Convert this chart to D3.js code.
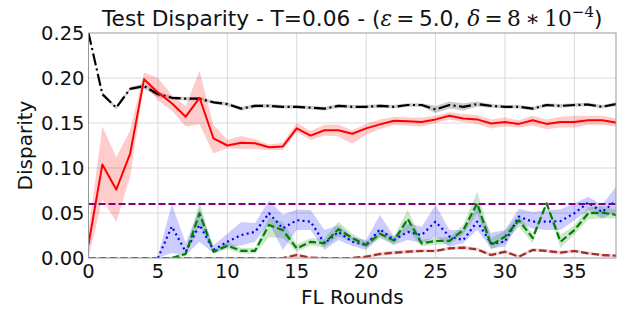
<!DOCTYPE html>
<html><head><meta charset="utf-8">
<script src="https://cdn.jsdelivr.net/npm/d3@7/dist/d3.min.js"></script>
<style>body{margin:0;background:#fff}svg{display:block}</style>
</head><body><svg id="c" width="628" height="309"></svg>
<script>
const rounds = d3.range(0, 39);
const xTicks = [0, 5, 10, 15, 20, 25, 30, 35];
const yTicks = [0, 0.05, 0.10, 0.15, 0.20, 0.25];
const threshold = 0.06;

const blackMean = [0.25,0.182,0.167,0.188,0.191,0.182,0.178,0.177,0.177,0.173,0.171,0.166,0.169,0.169,0.168,0.168,0.167,0.166,0.169,0.168,0.168,0.169,0.168,0.170,0.170,0.165,0.170,0.168,0.171,0.169,0.168,0.168,0.166,0.170,0.169,0.170,0.1705,0.168,0.171];
const blackLo = [0.25,0.180,0.165,0.186,0.188,0.179,0.176,0.175,0.175,0.171,0.169,0.164,0.167,0.167,0.166,0.166,0.165,0.164,0.167,0.166,0.166,0.167,0.166,0.168,0.168,0.161,0.166,0.164,0.168,0.167,0.166,0.166,0.164,0.168,0.167,0.168,0.1685,0.166,0.169];
const blackHi = [0.25,0.184,0.169,0.190,0.194,0.185,0.180,0.179,0.179,0.175,0.173,0.168,0.171,0.171,0.170,0.170,0.169,0.168,0.171,0.170,0.170,0.171,0.170,0.172,0.172,0.169,0.174,0.172,0.174,0.171,0.170,0.170,0.168,0.172,0.171,0.172,0.1725,0.170,0.173];

const redMean = [0.015,0.104,0.076,0.116,0.1985,0.184,0.172,0.157,0.178,0.133,0.125,0.128,0.1275,0.123,0.124,0.144,0.136,0.142,0.142,0.138,0.144,0.1485,0.1525,0.152,0.151,0.154,0.158,0.155,0.154,0.1495,0.151,0.149,0.153,0.149,0.151,0.151,0.153,0.153,0.1505];
const redLo = [0.0,0.065,0.04,0.09,0.195,0.175,0.164,0.146,0.1485,0.116,0.122,0.121,0.121,0.12,0.12,0.14,0.131,0.136,0.135,0.127,0.137,0.143,0.148,0.147,0.146,0.15,0.154,0.151,0.149,0.144,0.146,0.145,0.147,0.143,0.145,0.145,0.148,0.148,0.146];
const redHi = [0.03,0.146,0.112,0.142,0.206,0.2,0.181,0.169,0.208,0.148,0.131,0.1355,0.132,0.126,0.128,0.15,0.141,0.148,0.148,0.142,0.149,0.154,0.157,0.156,0.156,0.158,0.162,0.16,0.159,0.154,0.156,0.153,0.158,0.154,0.157,0.158,0.158,0.158,0.155];

const blueMean = [null,null,null,null,null,0.0,0.035,0.007,0.0367,0.009,0.018,0.0255,0.029,0.0497,0.033,0.042,0.0404,0.0163,0.029,0.018,0.0144,0.032,0.02,0.029,0.0255,0.0404,0.024,0.02,0.0404,0.0163,0.018,0.046,0.0404,0.0404,0.041,0.0497,0.0615,0.051,0.0637];
const blueLo = [null,null,null,null,null,0,0.0055,0.003,0.018,0.005,0.012,0.014,0.018,0.0385,0.0089,0.0311,0.0311,0.009,0.02,0.0133,0.009,0.024,0.0144,0.02,0.0163,0.024,0.0126,0.0163,0.031,0.0107,0.0126,0.0385,0.0326,0.031,0.031,0.042,0.0533,0.044,0.0515];
const blueHi = [null,null,null,null,null,0.002,0.06,0.0167,0.055,0.014,0.027,0.040,0.039,0.064,0.048,0.054,0.0533,0.031,0.0367,0.0237,0.02,0.048,0.024,0.0385,0.0348,0.0589,0.031,0.031,0.057,0.028,0.031,0.0548,0.0511,0.053,0.0541,0.0607,0.0681,0.0589,0.0793];

const greenMean = [null,null,null,null,null,null,0.0,0.0045,0.0497,0.007,0.0137,0.008,0.008,0.0367,0.031,0.0107,0.018,0.0163,0.032,0.0222,0.0144,0.027,0.0193,0.0433,0.0163,0.0189,0.019,0.031,0.0607,0.0144,0.0237,0.042,0.0222,0.0607,0.018,0.031,0.0497,0.0504,0.048];
const greenLo = [null,null,null,null,null,null,0,0.002,0.037,0.005,0.01,0.005,0.005,0.023,0.0222,0.007,0.014,0.012,0.024,0.018,0.011,0.022,0.015,0.0311,0.013,0.015,0.015,0.026,0.0497,0.009,0.018,0.0348,0.0163,0.059,0.0111,0.026,0.043,0.044,0.0441];
const greenHi = [null,null,null,null,null,null,0.001,0.007,0.0626,0.009,0.018,0.011,0.011,0.045,0.0404,0.015,0.022,0.021,0.0404,0.027,0.018,0.032,0.024,0.0537,0.02,0.023,0.023,0.037,0.0737,0.0222,0.03,0.0478,0.0274,0.062,0.0259,0.036,0.057,0.0578,0.0533];

const brownMean = [0,0,0,0,0,0,0,0,0,0,0,0,0,0,0,0.0033,0.0004,0,0,0,0.0015,0.0044,0.006,0.007,0.0078,0.0078,0.0107,0.0115,0.0096,0.0033,0.007,0.0015,0.0089,0.0078,0.006,0.0078,0.0052,0.0033,0.0026];
const brownLo = [0,0,0,0,0,0,0,0,0,0,0,0,0,0,0,0.001,0,0,0,0,0,0.0025,0.004,0.005,0.006,0.006,0.009,0.0095,0.0075,0.0015,0.005,0,0.007,0.006,0.004,0.006,0.0035,0.0015,0.001];
const brownHi = [0,0,0,0,0,0,0,0,0,0,0,0,0,0,0,0.0055,0.001,0,0,0,0.003,0.0065,0.008,0.009,0.0098,0.0098,0.0125,0.0135,0.0117,0.0055,0.009,0.003,0.011,0.0098,0.008,0.0098,0.007,0.005,0.004];

const svg = d3.select('#c');
const L = 88.5, R = 616, T = 33, B = 258;
const x = d3.scaleLinear().domain([0, 38]).range([L, R]);
const y = d3.scaleLinear().domain([0, 0.25]).range([B, T]);
const font = 'DejaVu Sans, sans-serif';

svg.append('defs').append('clipPath').attr('id','clip')
  .append('rect').attr('x', L).attr('y', T).attr('width', R-L).attr('height', B-T);

// grid
const g = svg.append('g');
g.selectAll('.vg').data(xTicks.slice(1)).enter().append('line')
  .attr('x1', d=>x(d)).attr('x2', d=>x(d)).attr('y1', T).attr('y2', B)
  .attr('stroke', '#d9d9d9').attr('stroke-width', 1);
g.selectAll('.hg').data(yTicks.slice(1, -1)).enter().append('line')
  .attr('x1', L).attr('x2', R).attr('y1', d=>y(d)).attr('y2', d=>y(d))
  .attr('stroke', '#d9d9d9').attr('stroke-width', 1);

const plot = svg.append('g').attr('clip-path', 'url(#clip)');

function band(lo, hi, color) {
  const data = rounds.map(i => ({i, lo: lo[i], hi: hi[i]}));
  const area = d3.area().defined(d => d.lo != null)
    .x(d => x(d.i)).y0(d => y(d.lo)).y1(d => y(d.hi));
  plot.append('path').attr('d', area(data)).attr('fill', color).attr('stroke', 'none');
}
function line(vals, color, w, dash) {
  const data = rounds.map(i => ({i, v: vals[i]}));
  const ln = d3.line().defined(d => d.v != null).x(d => x(d.i)).y(d => y(d.v));
  plot.append('path').attr('d', ln(data)).attr('fill', 'none')
    .attr('stroke', color).attr('stroke-width', w)
    .attr('stroke-dasharray', dash || null).attr('stroke-linejoin', 'round');
}

band(blackLo, blackHi, 'rgba(0,0,0,0.2)');
band(redLo, redHi, 'rgba(255,0,0,0.2)');
band(blueLo, blueHi, 'rgba(0,0,255,0.2)');
band(greenLo, greenHi, 'rgba(0,128,0,0.2)');
band(brownLo, brownHi, 'rgba(165,42,42,0.2)');

line(blackMean, '#000', 2.2, '12,3.5,2,3.5');
line(redMean, '#ff0000', 2, null);
line(blueMean, '#0000ff', 2.2, '2,3.3');
line(greenMean, '#008000', 2.2, '7.4,3.2');
line(brownMean, '#a52a2a', 2.2, '7.4,3.2');

plot.append('line').attr('x1', L).attr('x2', R).attr('y1', y(threshold)).attr('y2', y(threshold))
  .attr('stroke', '#800080').attr('stroke-width', 1.8).attr('stroke-dasharray', '7,3');

// frame
svg.append('rect').attr('x', L).attr('y', T).attr('width', R-L).attr('height', B-T)
  .attr('fill', 'none').attr('stroke', '#999').attr('stroke-width', 1);

// ticks
svg.selectAll('.yt').data(yTicks).enter().append('text')
  .attr('x', L - 4).attr('y', d => y(d) + 7).attr('text-anchor', 'end')
  .attr('font-family', font).attr('font-size', 19.5).attr('fill', '#111')
  .text(d => d.toFixed(2));
svg.selectAll('.xt').data(xTicks).enter().append('text')
  .attr('x', d => x(d)).attr('y', B + 20).attr('text-anchor', 'middle')
  .attr('font-family', font).attr('font-size', 19.5).attr('fill', '#111')
  .text(d => d);

svg.append('text').attr('x', x(19)).attr('y', 304).attr('text-anchor', 'middle')
  .attr('font-family', font).attr('font-size', 20).attr('fill', '#111').text('FL Rounds');
svg.append('text').attr('transform', `translate(32,${(T+B)/2}) rotate(-90)`)
  .attr('text-anchor', 'middle').attr('font-family', font).attr('font-size', 20)
  .attr('fill', '#111').text('Disparity');

// title
const t = svg.append('text').attr('x', (L+R)/2).attr('y', 26).attr('text-anchor', 'middle')
  .attr('font-family', font).attr('font-size', 21.7).attr('fill', '#111');
t.append('tspan').text('Test Disparity - T=0.06 - (');
t.append('tspan').attr('font-family', 'DejaVu Serif').attr('font-style', 'italic').text('ε');
t.append('tspan').attr('font-family', 'DejaVu Serif').text('\u2009=\u2009');
t.append('tspan').text('5.0, ');
t.append('tspan').attr('font-family', 'DejaVu Serif').attr('font-style', 'italic').text('δ');
t.append('tspan').attr('font-family', 'DejaVu Serif').text('\u2009=\u20098\u2009∗\u200910');
t.append('tspan').attr('font-family', 'DejaVu Serif').attr('font-size', 15).attr('dy', -9).text('−4');
t.append('tspan').attr('dy', 9).text(')');
</script></body></html>
